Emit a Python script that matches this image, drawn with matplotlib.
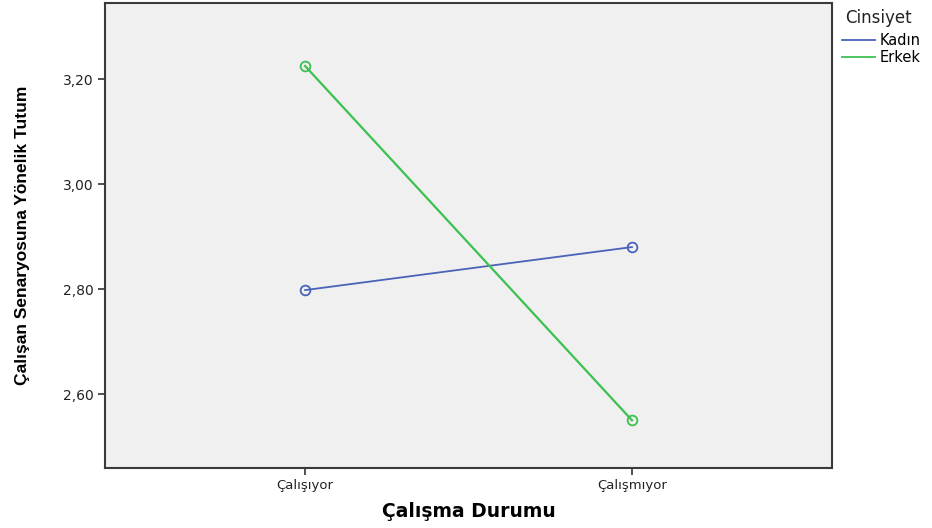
import matplotlib.pyplot as plt
from matplotlib.lines import Line2D
import numpy as np

# data
categories = ['Çalışıyor', 'Çalışmıyor']
kadin = [2.798, 2.880]
erkek = [3.225, 2.550]
yticks = [2.60, 2.80, 3.00, 3.20]
groups = ['Kadın', 'Erkek']
colors = ['#4A62B8', '#3CC050']

plt.rcParams['font.family'] = ['DejaVu Sans']

fig = plt.figure(figsize=(9.32, 5.28), dpi=100)
ax = fig.add_axes([0.1127, 0.1136, 0.780, 0.8807])
ax.set_facecolor('#F0F0F0')

x = np.arange(len(categories))
for vals, c, w in [(kadin, colors[0], 1.3), (erkek, colors[1], 1.6)]:
    ax.plot(x, vals, color=c, linewidth=w, marker='o', markersize=7,
            markerfacecolor='none', markeredgewidth=1.3)

ax.set_xlim(-0.612, 1.612)
ax.set_ylim(2.459, 3.345)
ax.set_xticks(x)
ax.set_xticklabels(categories, fontsize=9.5, color='#222222')
ax.set_yticks(yticks)
ax.set_yticklabels([f'{v:.2f}'.replace('.', ',') for v in yticks],
                   fontsize=10, color='#222222')
ax.tick_params(direction='out', length=5, width=1.2, color='#333333', pad=3)

for s in ax.spines.values():
    s.set_color('#3a3a3a')
    s.set_linewidth(1.5)

ax.set_xlabel('Çalışma Durumu', fontsize=13.5, fontweight='bold', labelpad=7)
ax.set_ylabel('Çalışan Senaryosuna Yönelik Tutum', fontsize=12.5, fontweight='bold',
              family=['Liberation Sans', 'DejaVu Sans'], labelpad=24)

# legend title as separate text, entries below it
fig.text(845 / 932, 1 - 18 / 528, 'Cinsiyet', fontsize=12, color='#222222',
         ha='left', va='center')
handles = [Line2D([], [], color=c, linewidth=1.3) for c in colors]
leg = ax.legend(handles, groups, loc='upper left', bbox_to_anchor=(1.0135, 0.935),
                frameon=False, fontsize=10.5, handlelength=2.3,
                handletextpad=0.3, labelspacing=0.1, borderaxespad=0,
                borderpad=0)

fig.savefig('out.png', dpi=100)
